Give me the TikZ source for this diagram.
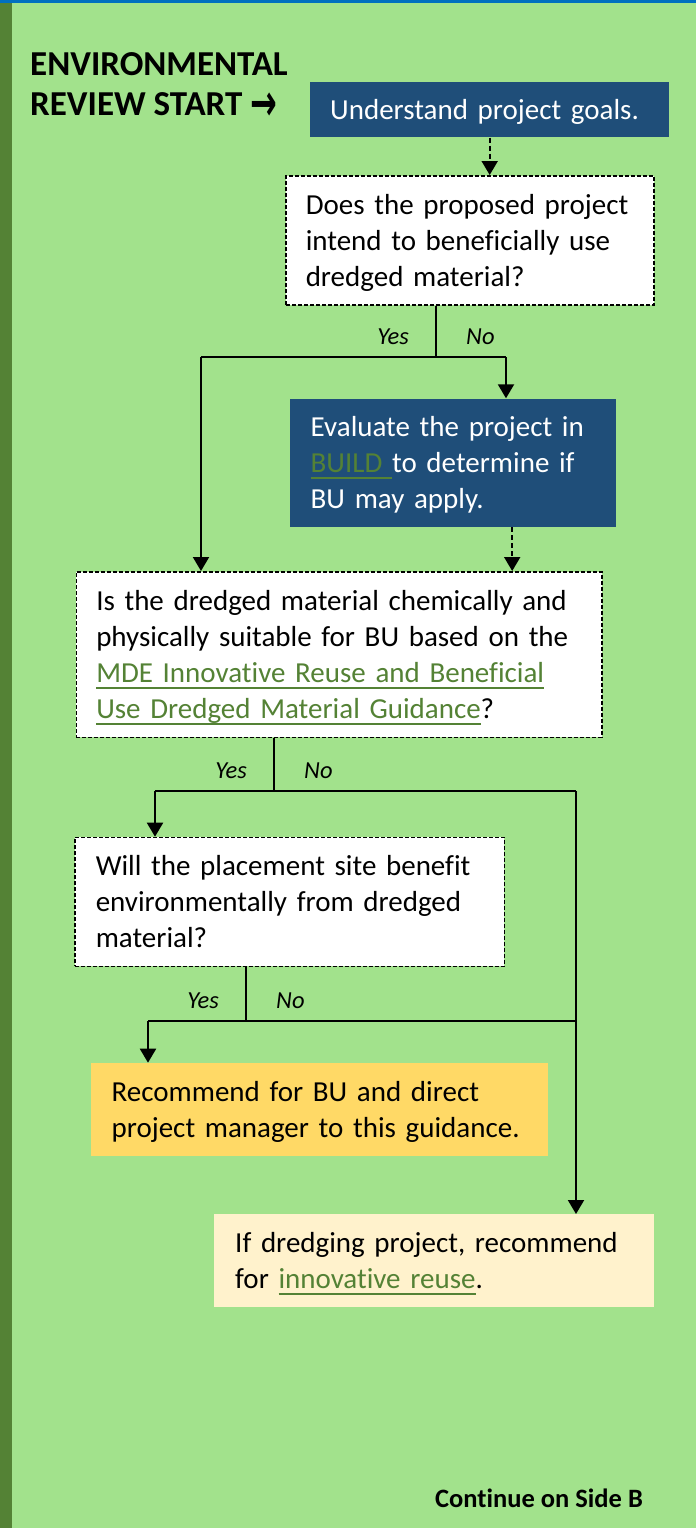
\documentclass[tikz,border=0pt]{standalone}
\usepackage{fontspec}
\setmainfont{Carlito}[Ligatures=CommonOff]
\newfontfamily\arrowfont{DejaVu Sans}
\usetikzlibrary{arrows.meta}
\definecolor{bggreen}{HTML}{A2E28C}
\definecolor{stripgreen}{HTML}{548235}
\definecolor{topblue}{HTML}{0070C0}
\definecolor{boxblue}{HTML}{1F4E79}
\definecolor{linkgreen}{HTML}{548235}
\definecolor{goldbox}{HTML}{FFD966}
\definecolor{creambox}{HTML}{FFF2CC}
\newcommand{\bodyfont}{\fontsize{29}{36}\selectfont}
\newcommand{\linktext}[1]{\leavevmode{\color{linkgreen}\setbox0\hbox{#1}\rlap{\rule[-6pt]{\wd0}{1.3pt}}\box0}}
\begin{document}
\begin{tikzpicture}[x=1pt,y=-1pt,
    box/.style={anchor=north west,inner ysep=0pt,align=left,font=\bodyfont,
      execute at begin node={\rule{0pt}{26pt}},execute at end node={\rule[-6pt]{0pt}{6pt}}},
    bluebox/.style={box,fill=boxblue,text=white},
    askbox/.style={box,fill=white,draw=black,line width=1.5pt,dash pattern=on 4pt off 2pt},
    flow/.style={line width=2pt,-{Triangle[length=14pt,width=16pt]}},
    dashflow/.style={flow,dash pattern=on 5pt off 3pt},
    stem/.style={line width=1.2pt},
    branch/.style={line width=1.5pt},
    yn/.style={inner sep=0pt,font=\fontsize{24.5}{25}\selectfont\itshape}]
  \useasboundingbox (0,0) rectangle (696,1528);
  \fill[bggreen] (0,0) rectangle (696,1528);
  \fill[stripgreen] (0,0) rectangle (12,1528);
  \fill[topblue] (0,0) rectangle (696,3.3);

  % heading
  \node[anchor=north west,inner sep=0pt,align=left,font=\fontsize{35}{40}\selectfont\bfseries] (head) at (30,52)
    {ENVIRONMENTAL\\REVIEW START {\arrowfont\bfseries\fontsize{32}{40}\selectfont\raisebox{-5pt}{\scalebox{1}[1.6]{→}}}};

  % boxes
  \node[bluebox,inner xsep=20pt,text width=319pt,minimum height=55.5pt] (start) at (310,81.7) {Understand project goals.};
  \node[askbox,inner xsep=20pt,text width=328pt,minimum height=129pt] (ask1) at (285,175)
    {Does the proposed project\\intend to beneficially use\\dredged material?};
  \node[bluebox,inner xsep=20.5pt,text width=285pt,minimum height=128.5pt] (eval) at (290,398.3)
    {Evaluate the project in\\\linktext{BUILD }to determine if\\BU may apply.};
  \node[askbox,inner xsep=20pt,text width=485.5pt,minimum height=165.5pt] (ask2) at (75.5,571)
    {Is the dredged material chemically and\\physically suitable for BU based on the\\
     \linktext{MDE Innovative Reuse and Beneficial}\\\linktext{Use Dredged Material Guidance}?};
  \node[askbox,inner xsep=21pt,text width=387.5pt,minimum height=129pt] (ask3) at (74,836.7)
    {Will the placement site benefit\\environmentally from dredged\\material?};
  \node[box,fill=goldbox,inner xsep=20.5pt,text width=416pt,minimum height=93pt] (reco) at (91,1062.7)
    {Recommend for BU and direct\\project manager to this guidance.};
  \node[box,fill=creambox,inner xsep=21pt,text width=398pt,minimum height=93pt] (reuse) at (214,1214)
    {If dredging project, recommend\\for \linktext{innovative reuse}.};

  \node[anchor=base east,inner sep=0pt,font=\fontsize{26.5}{27}\selectfont\bfseries] (side) at (643,1507) {Continue on Side B};

  % split points
  \coordinate (j1) at (436,357);
  \coordinate (y1) at (201,357);
  \coordinate (n1) at (506,357);
  \coordinate (j2) at (274,791);
  \coordinate (y2) at (155,791);
  \coordinate (n2) at (576,791);
  \coordinate (j3) at (246,1021);
  \coordinate (y3) at (148,1021);
  \coordinate (n3) at (576,1021);

  % connectors
  \draw[dashflow] (start.south) -- (start.south |- ask1.north);
  \draw[stem] (ask1.south -| j1) -- (j1);
  \draw[branch] (y1) -- (n1);
  \draw[flow] (n1) -- (n1 |- eval.north);
  \draw[flow] (y1) -- (y1 |- ask2.north);
  \draw[dashflow] ([xshift=59pt]eval.south) coordinate (e1) -- (e1 |- ask2.north);
  \draw[stem] (ask2.south -| j2) -- (j2);
  \draw[branch] (y2) -- (n2);
  \draw[flow] (y2) -- (y2 |- ask3.north);
  \draw[flow] (n2) -- (n2 |- reuse.north);
  \draw[stem] (ask3.south -| j3) -- (j3);
  \draw[branch] (y3) -- (n3);
  \draw[flow] (y3) -- (y3 |- reco.north);

  % yes / no labels
  \node[yn,anchor=base east] (yes1) at ([xshift=-27pt,yshift=13pt]j1) {Yes};
  \node[yn,anchor=base west] (no1) at ([xshift=30pt,yshift=13pt]j1) {No};
  \node[yn,anchor=base east] (yes2) at ([xshift=-27pt,yshift=13pt]j2) {Yes};
  \node[yn,anchor=base west] (no2) at ([xshift=30pt,yshift=13pt]j2) {No};
  \node[yn,anchor=base east] (yes3) at ([xshift=-27pt,yshift=13pt]j3) {Yes};
  \node[yn,anchor=base west] (no3) at ([xshift=30pt,yshift=13pt]j3) {No};
\end{tikzpicture}
\end{document}
